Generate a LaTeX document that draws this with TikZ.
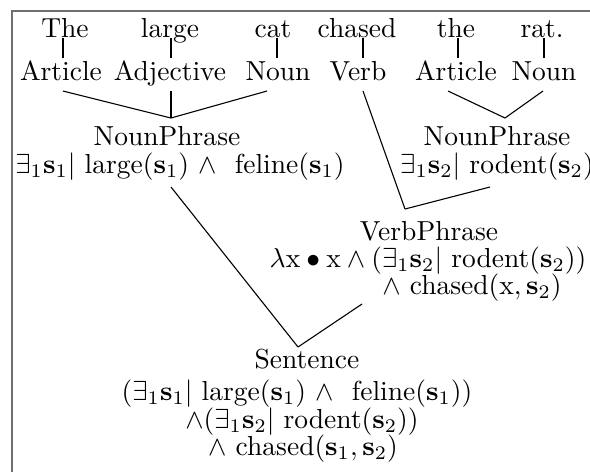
\documentclass[tikz,border=0pt]{standalone}
\begin{document}
\begin{tikzpicture}[x=0.3635pt,y=-0.3635pt,
  lbl/.style={anchor=base,inner sep=0pt,outer sep=0pt},
  edge/.style={line width=0.4pt,black},
  frame/.style={line width=0.6pt,draw={rgb,255:red,110;green,110;blue,110}}]
\useasboundingbox (0,0) rectangle (590,471);
\draw[frame] (12,11) rectangle (640,520);
% words
\node[lbl] (w1) at (65,37) {The};
\node[lbl] (w2) at (170,37) {large};
\node[lbl] (w3) at (273,37) {cat};
\node[lbl] (w4) at (357,37) {chased};
\node[lbl] (w5) at (456,37) {the};
\node[lbl] (w6) at (542,37) {rat.};
% categories
\node[lbl] (c1) at (61,80) {Article};
\node[lbl] (c2) at (170,80) {Adjective};
\node[lbl] (c3) at (278,80) {Noun};
\node[lbl] (c4) at (358,80) {Verb};
\node[lbl] (c5) at (456,80) {Article};
\node[lbl] (c6) at (544,80) {Noun};
% NounPhrase 1
\node[lbl] (np1) at (167,145) {NounPhrase};
\node[lbl] (np1f) at (180,173) {$\exists_1\mathbf{s}_1|$ large$(\mathbf{s}_1)$ $\wedge$\ \ feline$(\mathbf{s}_1)$};
% NounPhrase 2
\node[lbl] (np2) at (497,145) {NounPhrase};
\node[lbl] (np2f) at (497,173) {$\exists_1\mathbf{s}_2|$ rodent$(\mathbf{s}_2)$};
% VerbPhrase
\node[lbl] (vp) at (429,240) {VerbPhrase};
\node[lbl] (vpf1) at (428,267) {$\lambda\mathrm{x}\bullet\mathrm{x}\wedge(\exists_1\mathbf{s}_2|$ rodent$(\mathbf{s}_2))$};
\node[lbl] (vpf2) at (472,294) {$\wedge$ chased$(\mathrm{x},\mathbf{s}_2)$};
% Sentence
\node[lbl] (s) at (307,368) {Sentence};
\node[lbl] (sf1) at (297,400) {$(\exists_1\mathbf{s}_1|$ large$(\mathbf{s}_1)$ $\wedge$\ \ feline$(\mathbf{s}_1))$};
\node[lbl] (sf2) at (302,428) {$\wedge$$(\exists_1\mathbf{s}_2|$ rodent$(\mathbf{s}_2))$};
\node[lbl] (sf3) at (303,455) {$\wedge$ chased$(\mathbf{s}_1,\mathbf{s}_2)$};
% coordinates
\coordinate (w1b) at (63,38);  \coordinate (c1t) at (63,58);
\coordinate (w2b) at (171,38); \coordinate (c2t) at (171,58);
\coordinate (w3b) at (277,38); \coordinate (c3t) at (277,58);
\coordinate (w4b) at (363,38); \coordinate (c4t) at (363,58);
\coordinate (w5b) at (458,38); \coordinate (c5t) at (458,58);
\coordinate (w6b) at (544,38); \coordinate (c6t) at (544,58);
\coordinate (c1b) at (63,91);
\coordinate (c2b) at (171,91);
\coordinate (c3b) at (267,91);
\coordinate (c4b) at (363,91);
\coordinate (c5b) at (448,91);
\coordinate (c6b) at (543,91);
\coordinate (np1t) at (171,118);
\coordinate (np2t) at (505,118);
\coordinate (np1b) at (171,187);
\coordinate (np2b) at (490,187);
\coordinate (vpt) at (405,209);
\coordinate (vpb) at (362,304);
\coordinate (st) at (298,347);
% edges
\foreach \a/\b in {w1b/c1t,w2b/c2t,w3b/c3t,w4b/c4t,w5b/c5t,w6b/c6t,
  c1b/np1t,c2b/np1t,c3b/np1t,c5b/np2t,c6b/np2t,c4b/vpt,np2b/vpt,np1b/st,vpb/st}
  \draw[edge] (\a) -- (\b);
\end{tikzpicture}
\end{document}
